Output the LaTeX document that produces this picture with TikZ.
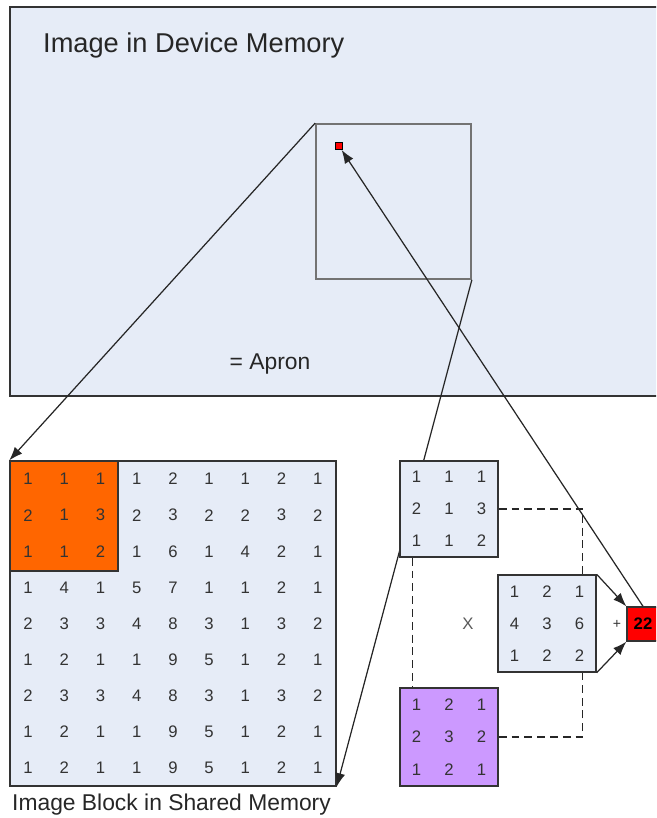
\documentclass[tikz,border=0pt]{standalone}
\usepackage{fontspec}
\setmainfont{Liberation Sans}
\usetikzlibrary{positioning,calc,arrows.meta}
\definecolor{paleblue}{HTML}{E6ECF7}
\definecolor{blockorange}{HTML}{FF6600}
\definecolor{maskpurple}{HTML}{CC99FF}
\definecolor{edgegray}{HTML}{333333}
\tikzset{
  box/.style={rectangle, draw=edgegray, fill=paleblue, line width=0.8pt, inner sep=0pt},
  num/.style={font=\fontsize{9.5}{11}\selectfont, text=black!80},
  connect/.style={-{Latex[length=2.7mm, width=2mm]}, line width=0.7pt, draw=black!85},
  link/.style={dash pattern=on 4.5pt off 2.8pt, line width=0.8pt, draw=black!85}
}
\begin{document}
\begin{tikzpicture}[x=0.02cm, y=-0.02cm]
  \useasboundingbox (0,0) rectangle (656,818);
  \clip (0,0) rectangle (656,818);
  % image in device memory
  \node[box, line width=1.1pt, minimum width=13.8cm, minimum height=7.78cm] (dev) at (355,201.5) {};
  \node[anchor=west, font=\fontsize{15.5}{18}\selectfont, text=black!85] (devlabel) at (37,45) {Image in Device Memory};
  \node[box, draw=black!55, line width=1pt, minimum size=3.1cm] (apron) at (393.5,201.5) {};
  \node[rectangle, draw=black, fill=red, minimum size=0.14cm, inner sep=0pt, line width=0.5pt] (pix) at (339,146) {};
  \node[font=\fontsize{13}{15}\selectfont, text=black!85] (apronlabel) at (270,364) {= Apron};

  % image block in shared memory
  \node[box, minimum width=6.52cm, minimum height=6.5cm] (blk) at (173,623.5) {};
  \node[box, fill=blockorange, minimum width=2.16cm, minimum height=2.2cm] (tile) at (64,516) {};
  \foreach \row [count=\r] in {{1,1,1,1,2,1,1,2,1},{2,1,3,2,3,2,2,3,2},{1,1,2,1,6,1,4,2,1},
      {1,4,1,5,7,1,1,2,1},{2,3,3,4,8,3,1,3,2},{1,2,1,1,9,5,1,2,1},
      {2,3,3,4,8,3,1,3,2},{1,2,1,1,9,5,1,2,1},{1,2,1,1,9,5,1,2,1}} {
    \foreach \v [count=\c] in \row
      \node[num] (b-\r-\c) at (-8.1+36.2*\c, 443+36.1*\r) {\v};
  }
  \node[font=\fontsize{13}{15}\selectfont, text=black!85] (blklabel) at (171.5,805) {Image Block in Shared Memory};

  \draw[connect] (apron.north west) -- (blk.north west);
  \draw[connect] (apron.south east) -- (blk.south east);

  % convolution
  \node[box, minimum width=1.96cm, minimum height=1.92cm] (nbhd) at (449,509) {};
  \node[box, minimum width=1.96cm, minimum height=1.94cm] (kern) at (547,623.5) {};
  \node[box, fill=maskpurple, minimum width=1.96cm, minimum height=1.96cm] (mask) at (449,737) {};
  \foreach \row [count=\r] in {{1,1,1},{2,1,3},{1,1,2}} {
    \foreach \v [count=\c] in \row
      \node[num] (n-\r-\c) at ($(nbhd)+(32.5*\c-65, 32*\r-64)$) {\v};
  }
  \foreach \row [count=\r] in {{1,2,1},{4,3,6},{1,2,2}} {
    \foreach \v [count=\c] in \row
      \node[num] (k-\r-\c) at ($(kern)+(32.5*\c-65, 32*\r-64)$) {\v};
  }
  \foreach \row [count=\r] in {{1,2,1},{2,3,2},{1,2,1}} {
    \foreach \v [count=\c] in \row
      \node[num] (m-\r-\c) at ($(mask)+(32.5*\c-65, 32.5*\r-65)$) {\v};
  }
  \node[num, text=black!65] (times) at (468,624) {X};
  \node[num, font=\fontsize{8}{9}\selectfont] (plus) at (617,624) {+};
  \node[box, fill=red, minimum width=0.64cm, minimum height=0.68cm, font=\fontsize{9.5}{11}\selectfont\bfseries] (res) at (643,624) {22};

  \draw[link] (nbhd.east) -| ([xshift=-0.28cm]kern.north east);
  \draw[link] ([xshift=0.26cm]nbhd.south west) -- ([xshift=0.26cm]mask.north west);
  \draw[link] (mask.east) -| ([xshift=-0.28cm]kern.south east);
  \draw[connect] (kern.north east) -- (res.north west);
  \draw[connect] (kern.south east) -- (res.south west);
  \draw[connect] (res.north) -- (pix);
\end{tikzpicture}
\end{document}
